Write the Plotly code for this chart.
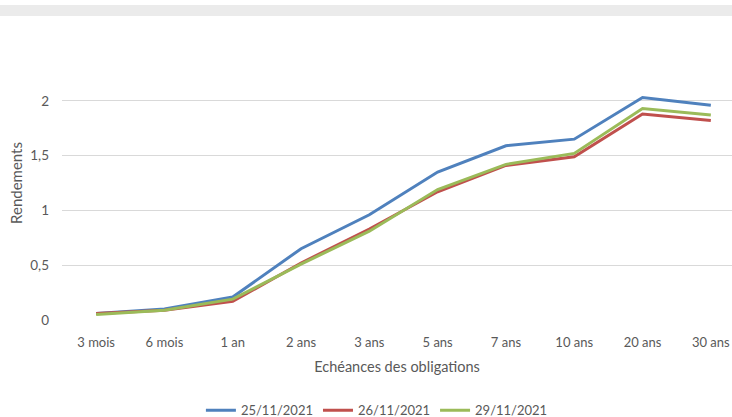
import plotly.graph_objects as go

# Maturités et rendements des obligations
echeances = ["3 mois", "6 mois", "1 an", "2 ans", "3 ans", "5 ans", "7 ans", "10 ans", "20 ans", "30 ans"]
rdt_25_11 = [0.06, 0.10, 0.21, 0.65, 0.96, 1.35, 1.59, 1.65, 2.03, 1.96]
rdt_26_11 = [0.06, 0.09, 0.17, 0.52, 0.83, 1.17, 1.41, 1.49, 1.88, 1.82]
rdt_29_11 = [0.05, 0.09, 0.19, 0.51, 0.81, 1.19, 1.42, 1.52, 1.93, 1.87]
dates = ["25/11/2021", "26/11/2021", "29/11/2021"]
couleurs = ["#4F81BD", "#C0504D", "#9BBB59"]

y_ticks = [0, 0.5, 1, 1.5, 2]
y_labels = ["0", "0,5", "1", "1,5", "2"]

FONT = "Lato, 'Open Sans', sans-serif"
GRIS_TEXTE = "#595959"

fig = go.Figure()
for nom, serie, couleur in zip(dates, [rdt_25_11, rdt_26_11, rdt_29_11], couleurs):
    fig.add_trace(go.Scatter(
        x=list(range(len(echeances))), y=serie, name=nom, mode="lines",
        line=dict(color=couleur, width=3), hoverinfo="x+y+name",
    ))

fig.update_layout(
    width=732, height=417,
    margin=dict(l=62, r=0, t=46, b=97, autoexpand=False),
    paper_bgcolor="white", plot_bgcolor="white",
    font=dict(family=FONT, size=13, color=GRIS_TEXTE),
    showlegend=True,
    legend=dict(orientation="h", x=0.47, xanchor="center", y=-0.33, yanchor="middle",
                font=dict(size=13, color=GRIS_TEXTE), itemwidth=30, tracegroupgap=0),
    xaxis=dict(
        range=[-0.5, 9.31], tickmode="array", tickvals=list(range(len(echeances))),
        ticktext=echeances, showgrid=False, zeroline=False, showline=False,
        automargin=False, ticklabeloverflow="allow",
        ticks="", ticklabelstandoff=13, tickfont=dict(size=13, color=GRIS_TEXTE),
        title=dict(text="Echéances des obligations", standoff=12,
                   font=dict(size=14.5, color=GRIS_TEXTE)),
    ),
    yaxis=dict(
        range=[0, 2.5], tickmode="array", tickvals=y_ticks, ticktext=y_labels,
        showgrid=True, gridcolor="#D9D9D9", gridwidth=1.3, zeroline=False, showline=False,
        automargin=False,
        ticks="", ticklabelstandoff=12, tickfont=dict(size=13.5, color=GRIS_TEXTE),
        title=dict(text="Rendements", standoff=4, font=dict(size=15, color=GRIS_TEXTE)),
    ),
    shapes=[
        dict(type="rect", xref="paper", yref="paper", layer="below",
             x0=-0.1, x1=1.01, y0=(417 - 97 - 5) / 274, y1=(417 - 97 - 16) / 274,
             fillcolor="#EBEBEB", line=dict(width=0)),
    ],
)

fig.write_html("out.html")
